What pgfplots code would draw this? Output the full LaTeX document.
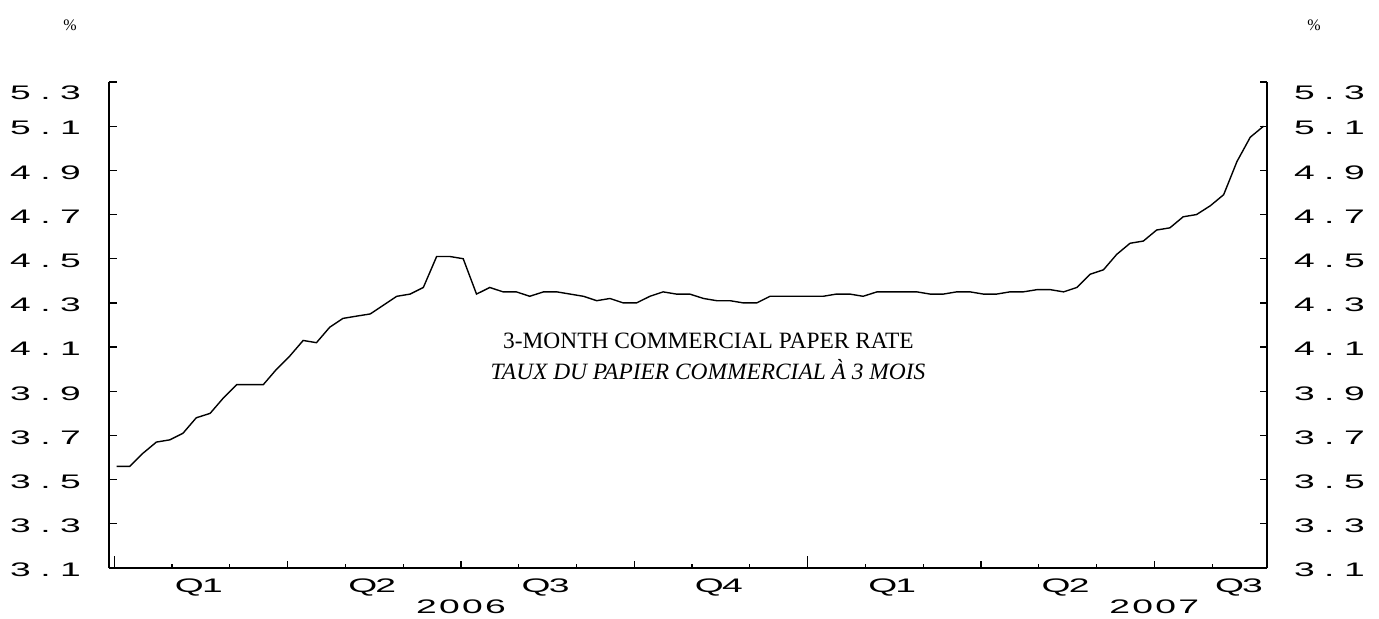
\documentclass[border=0pt]{standalone}
\usepackage{pgfplots}
\pgfplotsset{compat=1.18}
\usepackage{fontspec}
\setmainfont{Liberation Serif}
\newfontfamily\tickfont[FakeStretch=1.9]{Liberation Sans}

% wide-spaced tick text: each character centred in a cell of #1
\newcommand\wide[2]{\def\widepitch{#1}\widei#2\relax}
\def\widei#1{\ifx#1\relax\else\makebox[\widepitch][c]{#1}\expandafter\widei\fi}
\newcommand\tf{\tickfont\fontsize{9.8bp}{11bp}\selectfont}
\newcommand\yl[1]{\wide{12.5bp}{#1}}
\newcommand\ylt[1]{\raisebox{-4.5bp}[\height][\depth]{\wide{12.5bp}{#1}}}
\newcommand\xl[1]{\wide{11.5bp}{#1}}

\begin{document}
\begin{tikzpicture}
\path[use as bounding box] (0bp,0bp) rectangle (689.5bp,-309.5bp);

\pgfplotsset{
  base/.style={
    at={(54.5bp,-284bp)}, anchor=south west,
    scale only axis, width=579bp, height=243bp,
    xmin=-0.09, xmax=19.95, ymin=3.1, ymax=5.3,
    ytick={3.1,3.3,3.5,3.7,3.9,4.1,4.3,4.5,4.7,4.9,5.1,5.3},
    yticklabels={\yl{3.1},\yl{3.3},\yl{3.5},\yl{3.7},\yl{3.9},\yl{4.1},
                 \yl{4.3},\yl{4.5},\yl{4.7},\yl{4.9},\yl{5.1},\ylt{5.3}},
    tick align=inside,
    major tick length=3.75bp, minor tick length=2bp,
    tick style={black, line width=0.6bp},
    axis line style={black, line width=0.6bp},
    clip=false,
  }
}

\begin{axis}[base,
    axis x line*=bottom, axis y line*=left,
    xtick={3,6,9,15,18}, xticklabels={,,,,,},
    minor xtick={1,2,4,5,7,8,10,11,13,14,16,17,19},
    extra x ticks={0,12}, extra x tick labels={,,},
    extra x tick style={major tick length=6bp},
    yticklabel style={font=\tf, anchor=east, inner sep=0pt, xshift=-12.75bp, yshift=-1bp},
]
\addplot[black, line width=0.7bp] coordinates {
(0.04,3.56) (0.27,3.56) (0.50,3.62) (0.73,3.67) (0.96,3.68) (1.19,3.71)
(1.42,3.78) (1.66,3.80) (1.89,3.87) (2.12,3.93) (2.35,3.93) (2.58,3.93)
(2.81,4.00) (3.04,4.06) (3.27,4.13) (3.50,4.12) (3.73,4.19) (3.96,4.23)
(4.19,4.24) (4.43,4.25) (4.66,4.29) (4.89,4.33) (5.12,4.34) (5.35,4.37)
(5.58,4.51) (5.81,4.51) (6.04,4.50) (6.27,4.34) (6.50,4.37) (6.73,4.35)
(6.96,4.35) (7.19,4.33) (7.43,4.35) (7.66,4.35) (7.89,4.34) (8.12,4.33)
(8.35,4.31) (8.58,4.32) (8.81,4.30) (9.04,4.30) (9.27,4.33) (9.50,4.35)
(9.73,4.34) (9.96,4.34) (10.20,4.32) (10.43,4.31) (10.66,4.31) (10.89,4.30)
(11.12,4.30) (11.35,4.33) (11.58,4.33) (11.81,4.33) (12.04,4.33) (12.27,4.33)
(12.50,4.34) (12.73,4.34) (12.96,4.33) (13.20,4.35) (13.43,4.35) (13.66,4.35)
(13.89,4.35) (14.12,4.34) (14.35,4.34) (14.58,4.35) (14.81,4.35) (15.04,4.34)
(15.27,4.34) (15.50,4.35) (15.73,4.35) (15.97,4.36) (16.20,4.36) (16.43,4.35)
(16.66,4.37) (16.89,4.43) (17.12,4.45) (17.35,4.52) (17.58,4.57) (17.81,4.58)
(18.04,4.63) (18.27,4.64) (18.50,4.69) (18.73,4.70) (18.97,4.74) (19.20,4.79)
(19.43,4.94) (19.66,5.05) (19.89,5.10)
};
% quarter and year labels
\foreach \q/\lab in {1.5/Q1,4.5/Q2,7.5/Q3,10.5/Q4,13.5/Q1,16.5/Q2,19.5/Q3}{
  \edef\tmp{\noexpand\node[font=\noexpand\tf, anchor=base, inner sep=0pt]
    at ([yshift=-12.25bp]axis cs:\q,3.1) {\noexpand\xl{\lab}};}\tmp
}
\node[font=\tf, anchor=base, inner sep=0pt] at ([yshift=-22.7bp]axis cs:6,3.1) {\xl{2006}};
\node[font=\tf, anchor=base, inner sep=0pt] at ([yshift=-22.7bp]axis cs:18,3.1) {\xl{2007}};
\end{axis}

\begin{axis}[base,
    axis x line=none, axis y line*=right,
    yticklabel style={font=\tf, anchor=west, inner sep=0pt, xshift=12.25bp, yshift=-1bp},
]
\end{axis}

\begin{scope}[x=0.5bp, y=-0.5bp]
\node[font=\fontsize{8bp}{9bp}\selectfont] at (70,25) {\%};
\node[font=\fontsize{8bp}{9bp}\selectfont] at (1314,25) {\%};
\node[font=\fontsize{11.7bp}{13bp}\selectfont, anchor=base, inner sep=0pt] at (708.5,349) {3-MONTH COMMERCIAL PAPER RATE};
\node[font=\fontsize{11.7bp}{13bp}\selectfont\itshape, anchor=base, inner sep=0pt] at (708,380) {TAUX DU PAPIER COMMERCIAL À 3 MOIS};
\end{scope}
\end{tikzpicture}
\end{document}
